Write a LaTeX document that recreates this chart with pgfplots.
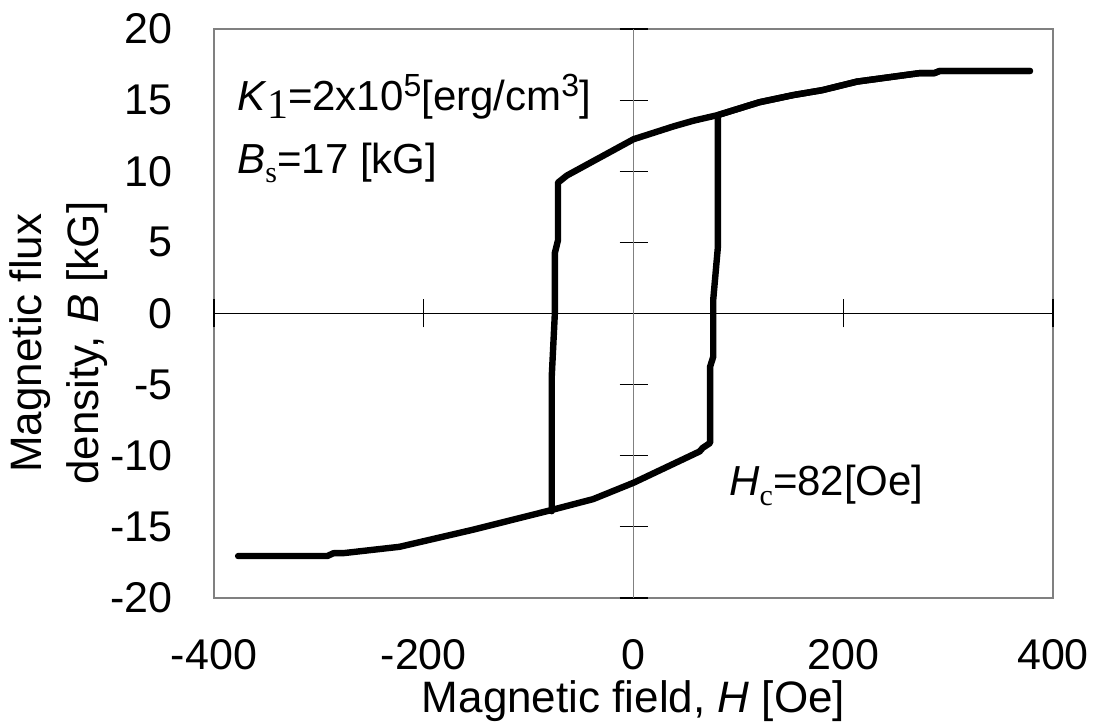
\documentclass[border=0pt]{standalone}
\usepackage{pgfplots}
\pgfplotsset{compat=1.18}
\usepackage{fontspec}
\setmainfont{Liberation Sans}
\newfontfamily\seriffam{Liberation Serif}
\newcommand\lsub[3]{\raisebox{-#2}{\seriffam\fontsize{#1}{#1}\selectfont #3}}
\newcommand\lsup[1]{\raisebox{7pt}{\fontsize{16}{16}\selectfont #1}}
\definecolor{framegray}{RGB}{128,128,128}

\pgfplotstableread{
H B
378 17.05
292 17.05
287 16.9
273 16.9
213 16.3
180 15.7
152 15.35
120 14.85
80.5 13.95
57 13.55
38 13.15
0 12.25
-63.5 9.7
-72 9.2
-72 5.15
-75 4.25
-75 0
-78 -4.5
-78 -13.9
}\descending

\pgfplotstableread{
H B
-377 -17.05
-292 -17.05
-286 -16.85
-277 -16.85
-223 -16.4
-153 -15.2
-80 -13.85
-38.5 -13.05
0 -11.9
63 -9.7
66 -9.45
73 -9.1
73 -3.75
76 -3.05
76 0.95
80.5 4.7
80.5 13.95
120 14.85
152 15.35
180 15.7
213 16.3
273 16.9
287 16.9
292 17.05
378 17.05
}\ascending

\begin{document}
\begin{tikzpicture}
\path[use as bounding box] (-107pt,-64.5pt) rectangle (441pt,299pt);
\pgfplotsset{every axis/.append style={scale only axis, width=419.5pt, height=284.5pt,
  xmin=-400, xmax=400, ymin=-20, ymax=20, at={(0,0)}, anchor=south west}}
% frame with tick labels
\begin{axis}[
  axis line style={framegray, line width=0.75pt},
  tick style={draw=none},
  xtick={-400,-200,0,200,400}, xticklabels={-400,-200,0,200,400},
  ytick={-20,-15,-10,-5,0,5,10,15,20}, yticklabels={-20,-15,-10,-5,0,5,10,15,20},
  ticklabel style={font=\fontsize{21.5}{24}\selectfont},
  xticklabel shift=17.3pt, yticklabel shift=17.3pt,
  xlabel={Magnetic field, \textit{H} [Oe]},
  ylabel={Magnetic flux\\density, \textit{B} [kG]},
  label style={font=\fontsize{22}{28.5}\selectfont},
  xlabel style={at={(axis description cs:0.5,-0.1325)}, anchor=north},
  ylabel style={at={(axis description cs:-0.252,0.448)}, anchor=north, align=center},
]
\end{axis}
% central axis lines with crossing ticks
\begin{axis}[
  axis x line=middle, axis y line=middle,
  x axis line style={black, line width=0.5pt, -},
  y axis line style={framegray, line width=0.75pt, -},
  tick style={black, line width=0.6pt},
  tick align=center, major tick length=14pt,
  hide obscured x ticks=false, hide obscured y ticks=false,
  xtick={-400,-200,0,200,400}, ytick={-20,-15,-10,-5,0,5,10,15,20},
  xticklabels={}, yticklabels={},
]
\end{axis}
% hysteresis loop and annotations
\begin{axis}[hide axis]
\addplot[black, line width=3.2pt, line cap=round, line join=round] table[x=H,y=B] {\descending};
\addplot[black, line width=3.2pt, line cap=round, line join=round] table[x=H,y=B] {\ascending};
\node[anchor=base west, inner sep=0pt, font=\fontsize{21}{24}\selectfont] at (axis cs:-378,14.3)
  {\textit{K}\lsub{21}{4pt}{1}=2x10\lsup{5}[erg/cm\lsup{3}]};
\node[anchor=base west, inner sep=0pt, font=\fontsize{21}{24}\selectfont] at (axis cs:-378,9.87)
  {\textit{B}\lsub{15}{4.5pt}{s}=17 [kG]};
\node[anchor=base west, inner sep=0pt, font=\fontsize{21}{24}\selectfont] at (axis cs:91,-12.76)
  {\textit{H}\lsub{15}{5pt}{c}=82[Oe]};
\end{axis}
\end{tikzpicture}
\end{document}
